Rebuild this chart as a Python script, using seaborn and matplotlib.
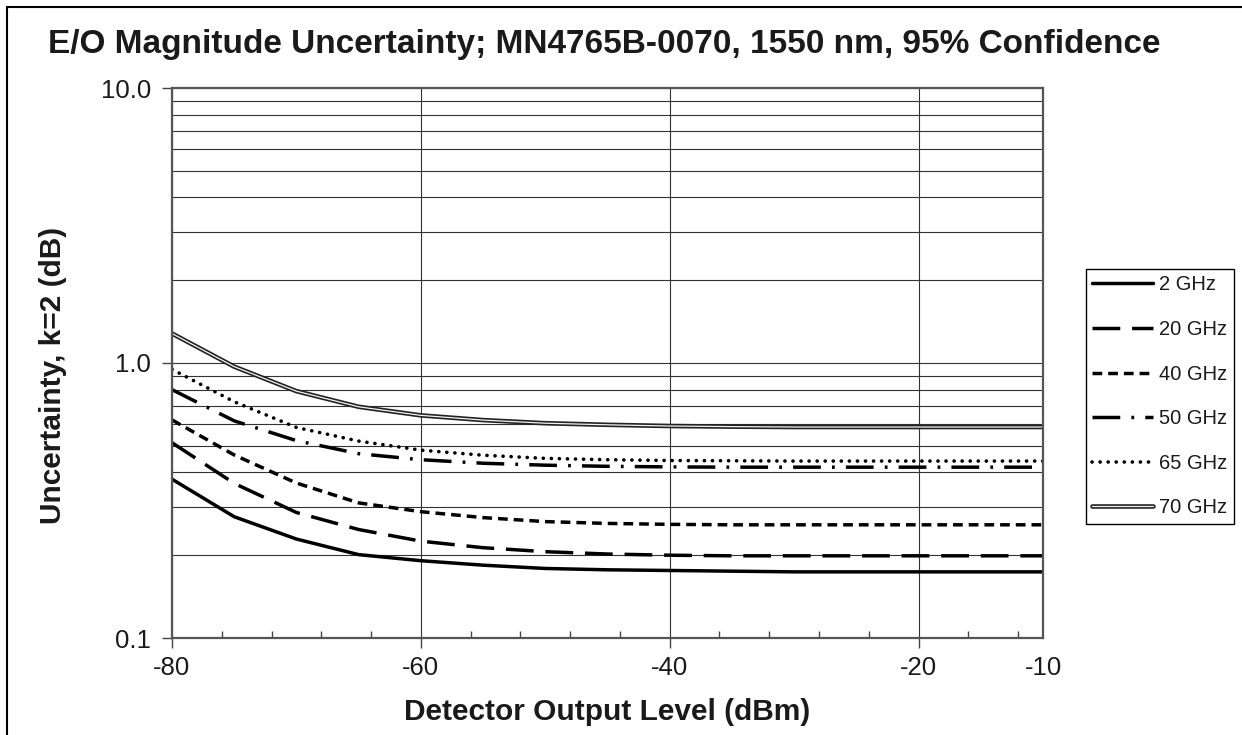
import matplotlib
matplotlib.use("Agg")
import numpy as np
import matplotlib.pyplot as plt
import matplotlib.patheffects as pe
from matplotlib.lines import Line2D
from matplotlib.ticker import FixedLocator, LogLocator, NullFormatter
import seaborn as sns

sns.set_theme(style="white")
plt.rcParams["font.family"] = ["Liberation Sans", "DejaVu Sans"]
plt.rcParams["lines.scale_dashes"] = False

# Data
level_dbm = [-80, -75, -70, -65, -60, -55, -50, -45, -40, -35, -30, -25, -20, -15, -10]
u_2ghz = [0.378, 0.276, 0.229, 0.201, 0.191, 0.184, 0.179, 0.177, 0.176, 0.175,
          0.174, 0.174, 0.174, 0.174, 0.174]
u_20ghz = [0.513, 0.365, 0.286, 0.248, 0.225, 0.213, 0.206, 0.202, 0.200, 0.199,
           0.199, 0.199, 0.199, 0.199, 0.199]
u_40ghz = [0.621, 0.463, 0.366, 0.310, 0.288, 0.274, 0.265, 0.261, 0.259, 0.258,
           0.258, 0.258, 0.258, 0.258, 0.258]
u_50ghz = [0.800, 0.616, 0.522, 0.468, 0.445, 0.432, 0.425, 0.421, 0.419, 0.418,
           0.418, 0.418, 0.418, 0.418, 0.418]
u_65ghz = [0.948, 0.723, 0.583, 0.520, 0.482, 0.462, 0.450, 0.445, 0.442, 0.441,
           0.440, 0.440, 0.440, 0.440, 0.440]
u_70ghz = [1.28, 0.97, 0.79, 0.693, 0.645, 0.620, 0.604, 0.596, 0.590, 0.587,
           0.585, 0.585, 0.585, 0.585, 0.585]
series_labels = ["2 GHz", "20 GHz", "40 GHz", "50 GHz", "65 GHz", "70 GHz"]
series_values = [u_2ghz, u_20ghz, u_40ghz, u_50ghz, u_65ghz, u_70ghz]

x_major = [-80, -60, -40, -20, -10]
y_major = [0.1, 1.0, 10.0]
y_major_labels = ["0.1", "1.0", "10.0"]

# Line styles (dash patterns in points)
STYLES = {
    "2 GHz": dict(lw=2.5, dashes=None, cap="butt"),
    "20 GHz": dict(lw=2.5, dashes=(20, 8.5), cap="butt"),
    "40 GHz": dict(lw=2.5, dashes=(7, 4.3), cap="butt"),
    "50 GHz": dict(lw=2.5, dashes=(20, 8, 2, 8), cap="butt"),
    "65 GHz": dict(lw=2.6, dashes=(0.1, 5.7), cap="round"),
    "70 GHz": dict(lw=0.9, dashes=None, cap="butt", double=True),
}

fig = plt.figure(figsize=(12.42, 7.35), dpi=100)
ax = fig.add_axes([172 / 1242, 1 - 638 / 735, 871 / 1242, 550 / 735])
ax.set_yscale("log")

for label, vals in zip(series_labels, series_values):
    st = STYLES[label]
    color = "#f2f2f2" if st.get("double") else "black"
    sns.lineplot(x=level_dbm, y=vals, ax=ax, color=color, linewidth=st["lw"],
                 label=label, legend=False, errorbar=None, sort=False)
    line = ax.lines[-1]
    if st["dashes"] is not None:
        line.set_linestyle((0, st["dashes"]))
        line.set_dash_capstyle(st["cap"])
    if st.get("double"):
        line.set_path_effects([pe.Stroke(linewidth=3.3, foreground="#222222"),
                               pe.Normal()])

ax.set_xlim(-80, -10)
ax.set_ylim(0.1, 10)

ax.set_xticks(x_major)
ax.set_xticklabels([str(v) for v in x_major])
ax.xaxis.set_minor_locator(FixedLocator(
    [v for v in range(-76, -10, 4) if v not in x_major]))
ax.set_yticks(y_major)
ax.set_yticklabels(y_major_labels)
ax.yaxis.set_minor_locator(LogLocator(base=10, subs=np.arange(2, 10)))
ax.yaxis.set_minor_formatter(NullFormatter())

ax.tick_params(axis="both", which="major", direction="out", length=7, width=1,
               color="#444444", labelsize=18.5, labelcolor="#1a1a1a",
               bottom=True, left=True)
ax.tick_params(axis="x", which="major", pad=6)
ax.tick_params(axis="y", which="major", pad=8)
ax.tick_params(axis="x", which="minor", direction="in", length=5, width=1,
               color="#444444", bottom=True)
ax.tick_params(axis="y", which="minor", length=0, left=False)
ax.xaxis.get_major_ticks()[-1].tick1line.set_visible(False)

ax.grid(True, which="major", axis="both", color="#333333", lw=0.8)
ax.grid(True, which="minor", axis="y", color="#333333", lw=0.8)
ax.set_axisbelow(True)
for sp in ax.spines.values():
    sp.set_color("#555555")
    sp.set_linewidth(1.6)

ax.set_xlabel("Detector Output Level (dBm)", fontsize=21.5, fontweight="bold",
              color="#1a1a1a")
ax.xaxis.label.set_va("center")
ax.xaxis.set_label_coords(0.5, (638 - 712) / 550)
ax.set_ylabel("Uncertainty, k=2 (dB)", fontsize=21.5, fontweight="bold",
              color="#1a1a1a")
ax.yaxis.label.set_va("center")
ax.yaxis.set_label_coords((53 - 172) / 871, (638 - 375) / 550)

fig.text(604 / 1242, 1 - 53 / 735,
         "E/O Magnitude Uncertainty; MN4765B-0070, 1550 nm, 95% Confidence",
         ha="center", va="baseline", fontsize=24, fontweight="bold",
         color="#1a1a1a")

handles, labels = ax.get_legend_handles_labels()
leg = fig.legend(handles, labels, loc="upper left",
                 bbox_to_anchor=(1086 / 1242, 1 - 269 / 735), borderaxespad=0,
                 fontsize=14.5, handlelength=3.0, handletextpad=0.3,
                 labelspacing=1.27, borderpad=0.32, frameon=True, fancybox=False,
                 edgecolor="black", facecolor="white", framealpha=1)
leg.get_frame().set_linewidth(1.0)
for t in leg.get_texts():
    t.set_color("#1a1a1a")

# outer frame of the picture (left and top edges visible)
fig.add_artist(Line2D([7 / 1242, 7 / 1242], [0, 1 - 7 / 735],
                      transform=fig.transFigure, color="black", lw=1.5))
fig.add_artist(Line2D([7 / 1242, 1], [1 - 7 / 735, 1 - 7 / 735],
                      transform=fig.transFigure, color="black", lw=1.5))

fig.savefig("out.png", dpi=100)
